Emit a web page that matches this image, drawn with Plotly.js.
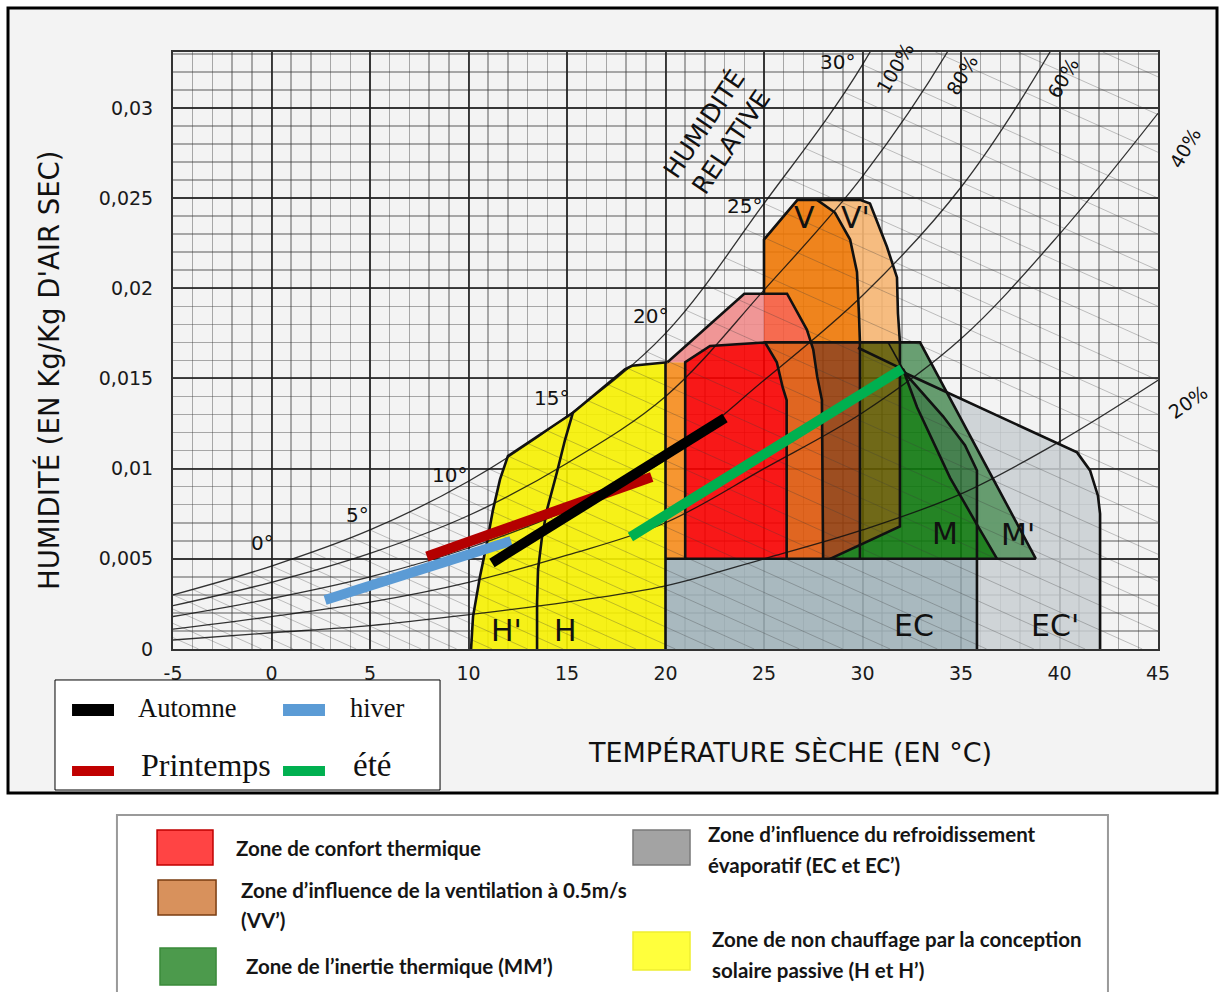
<!DOCTYPE html>
<html><head><meta charset="utf-8">
<script src="https://cdn.plot.ly/plotly-3.0.1.min.js"></script>
<style>html,body{margin:0;padding:0;background:#fff;}#chart{width:1219px;height:992px;}</style>
</head><body><div id="chart"></div>
<script>
// ---------- axis ticks ----------
const xTickVals = [-5, 0, 5, 10, 15, 20, 25, 30, 35, 40, 45];
const xTickLabels = ['-5', '0', '5', '10', '15', '20', '25', '30', '35', '40', '45'];
const yTickVals = [0, 0.005, 0.01, 0.015, 0.02, 0.025, 0.03];
const yTickLabels = ['0', '0,005', '0,01', '0,015', '0,02', '0,025', '0,03'];

// ---------- relative humidity curves ----------
const rhT   = [-5, 0, 5, 10, 15, 20, 25, 30, 35, 40, 45];
const rh100 = [0.0030, 0.0046, 0.0066, 0.0093, 0.0129, 0.0175, 0.0247, 0.0324, 0.0430, 0.0575, 0.0743];
const rh80  = [0.0024, 0.0037, 0.0053, 0.0074, 0.0103, 0.0140, 0.0199, 0.0262, 0.0344, 0.0460, 0.0594];
const rh60  = [0.0018, 0.0028, 0.0040, 0.0056, 0.0077, 0.0105, 0.0149, 0.0196, 0.0256, 0.0340, 0.0446];
const rh40  = [0.0011, 0.0018, 0.0026, 0.0037, 0.0052, 0.0070, 0.0100, 0.0131, 0.0172, 0.0230, 0.0297];
const rh20  = [0.0005, 0.0009, 0.0013, 0.0019, 0.0026, 0.0035, 0.0050, 0.0066, 0.0086, 0.0115, 0.0149];

// ---------- wet-bulb lines (start / end points) ----------
const wbStartT = [-5, -5, -5, -5, -4, -3, -2, -1, 0, 1, 2, 3, 4, 5, 6, 7, 8, 9, 10, 11, 12, 13, 14, 15, 16, 17, 18, 19, 20, 21, 22, 23, 24, 25, 26, 27, 28, 29, 30, 33.7, 37.9, 42.2];
const wbStartW = [0.00063, 0.00142, 0.00221, 0.0030, 0.0033, 0.0036, 0.0039, 0.0042, 0.0046, 0.0050, 0.0054, 0.0058, 0.0062, 0.0066, 0.0071, 0.0076, 0.0081, 0.0087, 0.0093, 0.0100, 0.0107, 0.0114, 0.0121, 0.0129, 0.0138, 0.0147, 0.0156, 0.0165, 0.0175, 0.0188, 0.0202, 0.0217, 0.0233, 0.0247, 0.0262, 0.0278, 0.0293, 0.0309, 0.0324, 0.0331, 0.0331, 0.0331];
const wbEndT = [-3.7, -2.1, -0.5, 1.1, 2.7, 4.3, 6.0, 7.6, 9.4, 11.2, 13.0, 14.8, 16.7, 18.5, 20.5, 22.5, 24.5, 26.8, 29.0, 31.4, 33.8, 36.3, 38.7, 41.3, 44.2, 45, 45, 45, 45, 45, 45, 45, 45, 45, 45, 45, 45, 45, 45, 45, 45, 45];
const wbEndW = [0, 0, 0, 0, 0, 0, 0, 0, 0, 0, 0, 0, 0, 0, 0, 0, 0, 0, 0, 0, 0, 0, 0, 0, 0, 0.00098, 0.00237, 0.00376, 0.00525, 0.00704, 0.00893, 0.01092, 0.01301, 0.0149, 0.0169, 0.0190, 0.0210, 0.0230, 0.0250, 0.02754, 0.02963, 0.03172];

// ---------- zones (temperature °C, humidity kg/kg) ----------
const yellowT = [10.13, 10.23, 10.58, 10.94, 11.24, 11.6, 12.0, 15.3, 17.94, 18.3, 20.0, 20.0];
const yellowW = [0, 0.0018, 0.0040, 0.0059, 0.0077, 0.0094, 0.0107, 0.0131, 0.0155, 0.0157, 0.0159, 0];
const stripT = [20, 21, 21, 20];
const stripW = [0.005, 0.005, 0.0159, 0.0159];
const pinkT = [20.1, 24.0, 25.0, 25.0, 22.26, 21.0];
const pinkW = [0.0159, 0.0197, 0.0197, 0.0170, 0.0168, 0.0159];
const salmonT = [25.0, 26.17, 27.18, 27.4, 25.0];
const salmonW = [0.0197, 0.0197, 0.0177, 0.0170, 0.0170];
const vT = [25.0, 25.0, 26.7, 27.69, 28.6, 29.37, 29.72, 29.82, 29.87, 27.4, 27.18, 26.17];
const vW = [0.0197, 0.0227, 0.0249, 0.0249, 0.0242, 0.0227, 0.0209, 0.0186, 0.0170, 0.0170, 0.0177, 0.0197];
const vpT = [27.69, 29.87, 30.38, 31.24, 31.75, 31.8, 31.9, 29.87, 29.82, 29.72, 29.37, 28.6];
const vpW = [0.0249, 0.0249, 0.0247, 0.0223, 0.0206, 0.0186, 0.0170, 0.0170, 0.0186, 0.0209, 0.0227, 0.0242];
const redT = [21.0, 21.0, 22.26, 25.05, 25.65, 25.95, 26.15, 26.15];
const redW = [0.005, 0.0159, 0.0168, 0.0170, 0.0159, 0.0145, 0.0138, 0.005];
const bandT = [26.15, 26.15, 25.95, 25.65, 25.05, 27.4, 27.5, 27.7, 27.94, 28.0];
const bandW = [0.005, 0.0138, 0.0145, 0.0159, 0.0170, 0.0170, 0.0166, 0.0151, 0.0138, 0.005];
const brownT = [28.0, 27.94, 27.7, 27.5, 27.4, 29.87, 29.87, 28.35];
const brownW = [0.005, 0.0138, 0.0151, 0.0166, 0.0170, 0.0170, 0.0058, 0.005];
const oliveT = [29.87, 31.9, 31.9, 29.87];
const oliveW = [0.0170, 0.0170, 0.0068, 0.0058];
const mT = [28.35, 36.83, 35.81, 34.44, 32.77, 32.06, 31.9, 31.9];
const mW = [0.005, 0.005, 0.0069, 0.0095, 0.0134, 0.0155, 0.0155, 0.0068];
const mecT = [32.06, 32.77, 34.44, 35.81, 35.81, 35.2, 34.09, 32.31];
const mecW = [0.0155, 0.0134, 0.0095, 0.0069, 0.0099, 0.0113, 0.0129, 0.0151];
const mpT = [31.9, 32.92, 38.8, 36.83, 35.81, 35.81, 35.2, 34.09, 32.31, 32.06, 31.9];
const mpW = [0.0170, 0.0170, 0.005, 0.005, 0.0069, 0.0099, 0.0113, 0.0129, 0.0151, 0.0155, 0.0155];
const ecT = [20, 35.81, 35.81, 20];
const ecW = [0, 0, 0.005, 0.005];
const ecpT = [35.81, 42.06, 42.06, 41.95, 41.55, 40.89, 32.16, 32.31, 34.09, 35.2, 35.81];
const ecpW = [0, 0, 0.0075, 0.0085, 0.0099, 0.0109, 0.0153, 0.0151, 0.0129, 0.0113, 0.0099];

// ---------- zone outlines ----------
const olHpT = [10.13, 10.23, 10.58, 10.94, 11.24, 11.6, 12.0, 15.3, 17.94, 18.3, 20.1];
const olHpW = [0, 0.0018, 0.0040, 0.0059, 0.0077, 0.0094, 0.0107, 0.0131, 0.0155, 0.0157, 0.0159];
const olHT = [15.3, 14.9, 14.49, 13.98, 13.73, 13.53, 13.48, 13.48];
const olHW = [0.0131, 0.0116, 0.0098, 0.0077, 0.0062, 0.0044, 0.0026, 0];
const olX20T = [20, 20];
const olX20W = [0, 0.0159];
const olRedT = [21.0, 21.0, 22.26, 25.05, 25.65, 25.95, 26.15, 26.15];
const olRedW = [0.005, 0.0159, 0.0168, 0.0170, 0.0159, 0.0145, 0.0138, 0.005];
const olPinkT = [20.1, 24.0, 26.17, 27.18, 27.5, 27.7, 27.94, 28.0];
const olPinkW = [0.0159, 0.0197, 0.0197, 0.0177, 0.0166, 0.0151, 0.0138, 0.005];
const olVT = [25.0, 25.0, 26.7, 29.87, 30.38, 31.24, 31.75, 31.8, 31.9, 31.9, 28.35];
const olVW = [0.0197, 0.0227, 0.0249, 0.0249, 0.0247, 0.0223, 0.0206, 0.0186, 0.0170, 0.0068, 0.005];
const olVVT = [27.69, 28.6, 29.37, 29.72, 29.82, 29.87, 29.87];
const olVVW = [0.0249, 0.0242, 0.0227, 0.0209, 0.0186, 0.0170, 0.005];
const olTopT = [25.05, 32.92, 38.8];
const olTopW = [0.0170, 0.0170, 0.005];
const olBotT = [20, 38.8];
const olBotW = [0.005, 0.005];
const olMT = [29.77, 32.06, 32.77, 34.44, 35.81, 36.83];
const olMW = [0.0167, 0.0155, 0.0134, 0.0095, 0.0069, 0.005];
const olBT = [31.3, 32.06];
const olBW = [0.0170, 0.0155];
const olEcT = [32.06, 32.31, 34.09, 35.2, 35.81, 35.81];
const olEcW = [0.0155, 0.0151, 0.0129, 0.0113, 0.0099, 0];
const olEcpT = [32.16, 40.89, 41.55, 41.95, 42.06, 42.06];
const olEcpW = [0.0153, 0.0109, 0.0099, 0.0085, 0.0075, 0];

// ---------- seasonal lines ----------
const hiverT = [2.72, 12.16];
const hiverW = [0.00272, 0.00599];
const printempsT = [7.89, 19.3];
const printempsW = [0.00513, 0.00954];
const automneT = [11.19, 23.02];
const automneW = [0.00477, 0.01281];
const eteT = [18.22, 32.0];
const eteW = [0.00621, 0.01553];

// ---------- build traces ----------
const traces = [];
function zone(T, W, col) {
  traces.push({type: 'scatter', x: T, y: W, mode: 'lines', fill: 'toself', fillcolor: col,
    line: {width: 0, color: col}, hoverinfo: 'skip'});
}
function path(T, W, col, w, shape) {
  traces.push({type: 'scatter', x: T, y: W, mode: 'lines',
    line: {color: col, width: w, shape: shape || 'linear'}, hoverinfo: 'skip'});
}

zone(ecpT, ecpW, 'rgba(200,206,209,0.85)');
zone(ecT, ecW, 'rgba(158,176,183,0.88)');
zone(yellowT, yellowW, 'rgba(246,241,0,0.9)');
zone(stripT, stripW, 'rgba(246,140,28,0.9)');
zone(pinkT, pinkW, 'rgba(240,140,140,0.9)');
zone(salmonT, salmonW, 'rgba(246,92,62,0.9)');
zone(vT, vW, 'rgba(238,120,6,0.9)');
zone(vpT, vpW, 'rgba(246,182,115,0.9)');
zone(redT, redW, 'rgba(248,0,0,0.9)');
zone(bandT, bandW, 'rgba(222,86,10,0.9)');
zone(brownT, brownW, 'rgba(148,60,10,0.9)');
zone(oliveT, oliveW, 'rgba(98,90,0,0.9)');
zone(mT, mW, 'rgba(14,120,14,0.9)');
zone(mecT, mecW, 'rgba(52,116,62,0.9)');
zone(mpT, mpW, 'rgba(90,150,100,0.9)');

// wet-bulb lines
const wbX = [], wbY = [];
for (let i = 0; i < wbStartT.length; i++) {
  wbX.push(wbStartT[i], wbEndT[i], null);
  wbY.push(wbStartW[i], wbEndW[i], null);
}
path(wbX, wbY, 'rgba(60,60,60,0.3)', 1);

// RH curves
[rh100, rh80, rh60, rh40, rh20].forEach(function (c) { path(rhT, c, 'rgba(15,15,15,0.85)', 1.3, 'spline'); });

// outlines
const OL = '#111111', OW = 2.6;
path(olHpT, olHpW, OL, OW); path(olHT, olHW, OL, OW); path(olX20T, olX20W, OL, OW);
path(olRedT, olRedW, OL, OW); path(olPinkT, olPinkW, OL, OW); path(olVT, olVW, OL, OW);
path(olVVT, olVVW, OL, OW); path(olTopT, olTopW, OL, OW); path(olBotT, olBotW, OL, OW);
path(olMT, olMW, OL, OW); path(olBT, olBW, OL, 1.6); path(olEcT, olEcW, OL, OW); path(olEcpT, olEcpW, OL, OW);

// seasonal lines
path(hiverT, hiverW, '#5b9bd5', 10);
path(printempsT, printempsW, '#b40000', 10);
path(automneT, automneW, '#000000', 10);
path(eteT, eteW, '#00b050', 10);

// ---------- layout helpers ----------
const shapes = [];
const ann = [];
function prect(x0, y0, x1, y1, fill, lc, lw, layer) {
  shapes.push({type: 'rect', xref: 'paper', yref: 'paper', x0: x0, y0: y0, x1: x1, y1: y1,
    fillcolor: fill, line: {color: lc, width: lw}, layer: layer || 'above'});
}
function ptext(x, y, txt, size, opts) {
  opts = opts || {};
  ann.push({xref: 'paper', yref: 'paper', x: x, y: y, text: txt, showarrow: false,
    xanchor: opts.xa || 'center', yanchor: opts.ya || 'middle', textangle: opts.angle || 0,
    align: opts.align || 'center',
    font: {size: size, family: opts.family || 'DejaVu Sans, Verdana, sans-serif', color: opts.color || '#111',
      weight: opts.weight || 'normal'}});
}

// outer frame
prect(-0.1675, -0.2412, 1.0599, 1.0737, '#f3f3f3', '#000', 3, 'below');

// chart labels
const CF = 'DejaVu Sans, Verdana, sans-serif';
ptext(0.0904, 0.1776, '0°', 20); ptext(0.1878, 0.2245, '5°', 20); ptext(0.2812, 0.2915, '10°', 20);
ptext(0.3838, 0.4204, '15°', 20); ptext(0.4843, 0.5578, '20°', 20); ptext(0.5807, 0.7420, '25°', 20);
ptext(0.6751, 0.9832, '30°', 20);
ptext(0.7330, 0.9732, '100%', 19, {angle: -60}); ptext(0.8010, 0.9615, '80%', 19, {angle: -60});
ptext(0.9036, 0.9564, '60%', 19, {angle: -60}); ptext(1.0274, 0.8392, '40%', 19, {angle: -60});
ptext(1.0305, 0.4137, '20%', 19, {angle: -35});
ptext(0.5533, 0.8643, 'HUMIDITÉ<br>RELATIVE', 25, {angle: -56});
ptext(0.3381, 0.0318, "H'", 30); ptext(0.3980, 0.0318, 'H', 30);
ptext(0.6416, 0.7236, 'V', 30); ptext(0.6924, 0.7236, "V'", 30);
ptext(0.7838, 0.1943, 'M', 30); ptext(0.8579, 0.1910, "M'", 30);
ptext(0.7523, 0.0402, 'EC', 30); ptext(0.8954, 0.0402, "EC'", 30);

// axis titles
ptext(0.6264, -0.1742, 'TEMPÉRATURE SÈCHE (EN °C)', 27);
ptext(-0.1269, 0.4673, "HUMIDITÉ (EN Kg/Kg D'AIR SEC)", 27.5, {angle: -90});

// season legend
const SF = 'Liberation Serif, Times New Roman, serif';
prect(-0.1198, -0.2362, 0.2711, -0.0519, '#ffffff', '#000', 1);
prect(-0.1025, -0.1122, -0.0599, -0.0921, '#000000', '#000000', 0);
prect(0.1117, -0.1122, 0.1543, -0.0921, '#5b9bd5', '#5b9bd5', 0);
prect(-0.1025, -0.2127, -0.0599, -0.1960, '#c00000', '#c00000', 0);
prect(0.1117, -0.2127, 0.1543, -0.1960, '#00b050', '#00b050', 0);
ptext(-0.0376, -0.0988, 'Automne', 26.5, {xa: 'left', family: SF});
ptext(0.1777, -0.0988, 'hiver', 26.5, {xa: 'left', family: SF});
ptext(-0.0345, -0.1943, 'Printemps', 32, {xa: 'left', family: SF});
ptext(0.1807, -0.1943, 'été', 33, {xa: 'left', family: SF});

// zone legend
const LF = 'Lato, Liberation Sans Narrow, DejaVu Sans Condensed, sans-serif';
prect(-0.0569, -0.5796, 0.9492, -0.2781, '#ffffff', '#9a9a9a', 2);
prect(-0.0162, -0.3618, 0.0406, -0.3032, '#ff4444', '#c00000', 1.5);
prect(-0.0152, -0.4456, 0.0437, -0.3869, '#d8915c', '#7a3c10', 1.5);
prect(-0.0132, -0.5628, 0.0437, -0.5008, '#4c9a4c', '#3a8a3a', 1.5);
prect(0.4670, -0.3618, 0.5249, -0.3032, '#a3a3a3', '#7a7a7a', 1.5);
prect(0.4670, -0.5377, 0.5249, -0.4740, '#ffff3c', '#eeee30', 1.5);
const lo = {xa: 'left', family: LF, weight: 'bold', color: '#151515'};
ptext(0.0619, -0.3333, 'Zone de confort thermique', 20.5, lo);
ptext(0.0670, -0.4037, 'Zone d’influence de la ventilation à 0.5m/s', 20.5, lo);
ptext(0.0670, -0.4539, '(VV’)', 20.5, lo);
ptext(0.0721, -0.5310, 'Zone de l’inertie thermique (MM’)', 20.5, lo);
ptext(0.5411, -0.3099, 'Zone d’influence du refroidissement', 20.5, lo);
ptext(0.5411, -0.3618, 'évaporatif (EC et EC’)', 20.5, lo);
ptext(0.5452, -0.4858, 'Zone de non chauffage par la conception', 20.5, lo);
ptext(0.5452, -0.5377, 'solaire passive (H et H’)', 20.5, lo);

const layout = {
  width: 1219, height: 992,
  margin: {l: 173, r: 61, t: 52, b: 343, pad: 0},
  paper_bgcolor: '#ffffff', plot_bgcolor: '#f3f3f3',
  showlegend: false,
  font: {family: CF, color: '#1a1a1a'},
  xaxis: {range: [-5, 45], tickmode: 'array', tickvals: xTickVals, ticktext: xTickLabels,
    showgrid: true, gridcolor: 'rgba(35,35,35,0.85)', gridwidth: 2,
    minor: {tick0: 0, dtick: 1, showgrid: true, gridcolor: 'rgba(60,60,60,0.42)', gridwidth: 1.5},
    zeroline: false, showline: true, mirror: true, linecolor: '#333', linewidth: 2,
    ticks: '', ticklabelstandoff: 6, tickfont: {size: 19, color: '#1a1a1a'}, fixedrange: true},
  yaxis: {range: [0, 0.0331], tickmode: 'array', tickvals: yTickVals, ticktext: yTickLabels,
    showgrid: true, gridcolor: 'rgba(35,35,35,0.85)', gridwidth: 2,
    minor: {tick0: 0, dtick: 0.001, showgrid: true, gridcolor: 'rgba(60,60,60,0.42)', gridwidth: 1.5},
    zeroline: false, showline: true, mirror: true, linecolor: '#333', linewidth: 2,
    ticks: '', ticklabelstandoff: 14, tickfont: {size: 19, color: '#1a1a1a'}, fixedrange: true},
  shapes: shapes,
  annotations: ann
};

Plotly.newPlot('chart', traces, layout, {displayModeBar: false, staticPlot: true});
</script></body></html>
